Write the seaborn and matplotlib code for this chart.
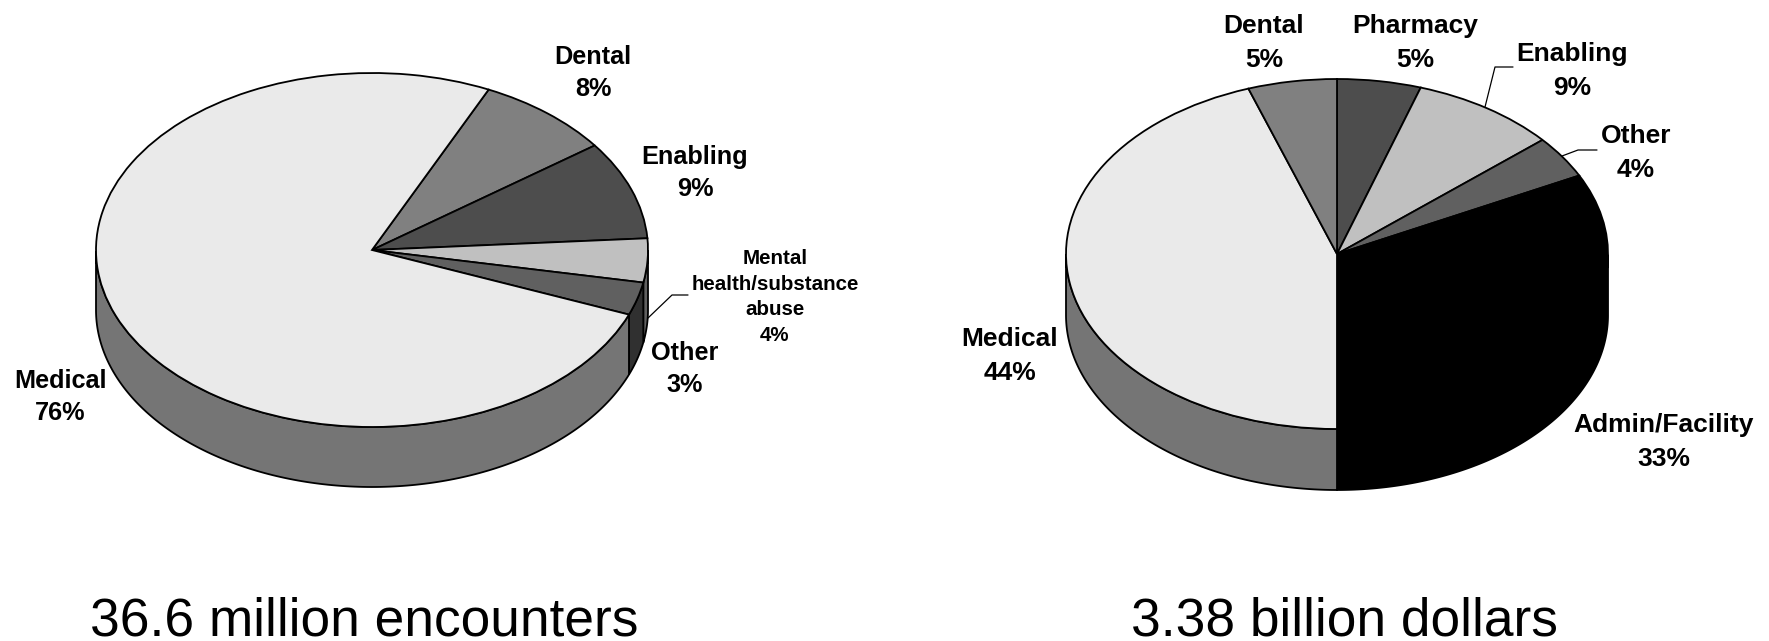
import numpy as np
import seaborn as sns
import matplotlib.pyplot as plt

sns.set_theme(style="white")
plt.rcParams['font.family'] = ['Liberation Sans', 'DejaVu Sans']

W, H = 1769, 641

### data
enc_names = ["Dental", "Enabling", "Mental\nhealth/substance\nabuse", "Other", "Medical"]
enc_values = [8, 9, 4, 3, 76]
enc_title = "36.6 million encounters"

dol_names = ["Pharmacy", "Enabling", "Other", "Admin/Facility", "Medical", "Dental"]
dol_values = [5.0, 8.7, 3.9, 32.4, 44.7, 5.3]
dol_percent = ["5%", "9%", "4%", "33%", "44%", "5%"]
enc_percent = ["8%", "9%", "4%", "3%", "76%"]
dol_title = "3.38 billion dollars"

enc_colors = sns.color_palette(["#808080", "#4d4d4d", "#c0c0c0", "#606060", "#eaeaea"])
dol_colors = sns.color_palette(["#4d4d4d", "#c0c0c0", "#606060", "#000000", "#eaeaea", "#808080"])


def draw_pie(fig, values, colors, start, cx, cy, rx, ry, depth):
    ax = fig.add_axes([(cx - rx) / W, (H - cy - ry) / H, 2 * rx / W, 2 * ry / H])
    drop = 2 * depth / (2 * ry)
    # side wall first, the top face goes over it
    edges = start - np.cumsum([0] + list(values)) * 3.6
    for i, c in enumerate(colors):
        t = np.radians(np.linspace(edges[i + 1], edges[i], 300))
        t = t[np.sin(t) <= 0]
        if len(t) < 2:
            continue
        x = np.cos(t)
        y = np.sin(t)
        shade = tuple(v * 0.5 for v in c)
        ax.fill(np.r_[x, x[::-1]], np.r_[y, y[::-1] - drop], facecolor=shade,
                edgecolor="black", linewidth=1.3, clip_on=False)
    wedges, _ = ax.pie(values, colors=colors, startangle=start, counterclock=False,
                       radius=1, wedgeprops={"edgecolor": "black", "linewidth": 1.3})
    for w in wedges:
        w.set_clip_on(False)
    ax.set_aspect("auto")
    ax.set_xlim(-1, 1)
    ax.set_ylim(-1, 1)
    ax.axis("off")
    return ax


fig = plt.figure(figsize=(W / 100, H / 100), dpi=100, facecolor="white")

draw_pie(fig, enc_values, enc_colors, 65, 372, 250, 276, 177, 60)
draw_pie(fig, dol_values, dol_colors, 90, 1337, 254, 271, 175, 61)

# overlay in pixel coordinates for labels and leader lines
over = fig.add_axes([0, 0, 1, 1])
over.set_xlim(0, W)
over.set_ylim(H, 0)
over.axis("off")
over.patch.set_alpha(0)

enc_pos = [(593, 73), (695, 173), (775, 297), (685, 369), (60, 397)]
for name, pct, (x, y) in zip(enc_names, enc_percent, enc_pos):
    mental = "Mental" in name
    over.text(x, y, name + "\n" + pct, ha="center", va="center",
              fontsize=14.8 if mental else 18.2, fontweight="bold", color="black",
              linespacing=1.43 if mental else 1.39)

dol_pos = [(1415, 43), (1572, 71), (1636, 153), (1664, 442), (1010, 356), (1264, 43)]
for name, pct, (x, y) in zip(dol_names, dol_percent, dol_pos):
    over.text(x, y, name + "\n" + pct, ha="center", va="center", fontsize=19,
              fontweight="bold", color="black", linespacing=1.48)

over.text(364, 635, enc_title, ha="center", va="baseline", fontsize=38.3, color="black")
over.text(1344, 635, dol_title, ha="center", va="baseline", fontsize=38.3, color="black")

# leader lines
over.plot([648, 672, 688], [318, 295, 295], color="black", lw=0.9)
over.plot([1485, 1495, 1513], [107, 67, 67], color="black", lw=0.9)
over.plot([1562, 1578, 1597], [156, 150, 150], color="black", lw=0.9)

fig.savefig("out.png", dpi=100, facecolor="white")
